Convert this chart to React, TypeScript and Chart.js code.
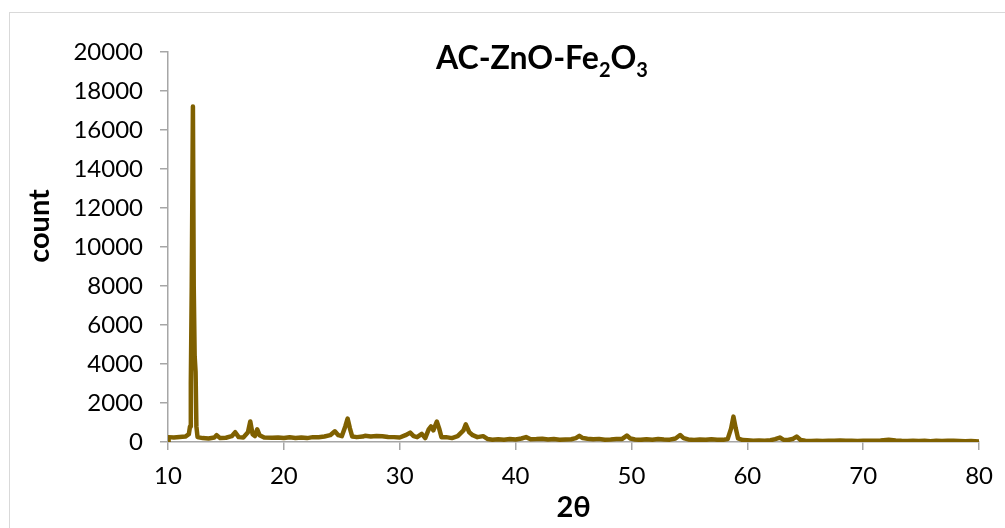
import React, { useEffect, useRef } from "react";
import { Chart, registerables } from "chart.js";

Chart.register(...registerables);

const TITLE_PARTS: [string, boolean][] = [
  ["AC-ZnO-Fe", false],
  ["2", true],
  ["O", false],
  ["3", true],
];
const X_TITLE = "2θ";
const Y_TITLE = "count";
const X_TICKS = [10, 20, 30, 40, 50, 60, 70, 80];
const Y_TICKS = [0, 2000, 4000, 6000, 8000, 10000, 12000, 14000, 16000, 18000, 20000];

const twoTheta = [
  10.0, 10.05, 10.5, 11.0, 11.5, 11.8, 11.9, 11.97, 12.05, 12.15, 12.22, 12.3, 12.38, 12.45, 12.55,
  13.0, 13.5, 14.0, 14.2, 14.5, 15.0, 15.5, 15.8, 16.1, 16.5, 16.9, 17.1, 17.3, 17.5, 17.7, 17.9,
  18.3, 19.0, 19.5, 20.0, 20.5, 21.0, 21.5, 22.0, 22.5, 23.0, 23.5, 24.0, 24.4, 24.7, 25.0, 25.3,
  25.5, 25.7, 25.9, 26.3, 26.8, 27.0, 27.5, 28.0, 28.5, 29.0, 29.5, 30.0, 30.5, 30.9, 31.2, 31.5,
  31.9, 32.2, 32.5, 32.7, 32.9, 33.2, 33.4, 33.6, 34.0, 34.5, 35.0, 35.5, 35.7, 36.0, 36.3, 36.7,
  37.2, 37.6, 38.0, 38.5, 39.0, 39.5, 40.0, 40.5, 40.9, 41.3, 41.8, 42.3, 42.8, 43.3, 43.8, 44.3,
  44.8, 45.2, 45.5, 45.8, 46.2, 46.7, 47.2, 47.7, 48.2, 48.7, 49.2, 49.6, 49.9, 50.3, 50.8, 51.3,
  51.8, 52.3, 52.8, 53.3, 53.8, 54.2, 54.5, 54.9, 55.4, 55.9, 56.4, 56.9, 57.4, 57.9, 58.3, 58.6,
  58.8, 59.0, 59.2, 59.6, 60.0, 60.5, 61.0, 61.5, 62.0, 62.4, 62.8, 63.1, 63.5, 63.9, 64.25, 64.6,
  65.0, 65.5, 66.0, 66.5, 67.0, 67.5, 68.0, 68.5, 69.0, 69.5, 70.0, 70.5, 71.0, 71.5, 72.2, 72.8,
  73.3, 73.8, 74.3, 74.8, 75.3, 75.8, 76.3, 76.8, 77.3, 77.8, 78.3, 78.8, 79.3, 80.0,
];

const counts = [
  30, 250, 230, 260, 280, 400, 800, 3000, 8000, 17200, 8000, 4400, 3600, 800, 250,
  200, 180, 230, 350, 200, 220, 300, 500, 250, 230, 500, 1050, 400, 300, 650, 350,
  230, 220, 230, 200, 240, 210, 230, 200, 250, 240, 280, 350, 550, 350, 300, 800,
  1200, 700, 280, 250, 280, 320, 280, 310, 300, 260, 250, 230, 350, 480, 300, 250,
  420, 200, 650, 800, 600, 1050, 700, 250, 250, 200, 300, 600, 900, 500, 350, 250,
  300, 150, 120, 140, 120, 150, 130, 180, 250, 140, 150, 170, 130, 150, 120, 130,
  140, 200, 320, 200, 170, 140, 160, 120, 130, 150, 160, 330, 180, 130, 110, 140,
  120, 150, 130, 120, 180, 360, 200, 130, 100, 130, 110, 140, 120, 110, 150, 700,
  1300, 700, 180, 100, 90, 70, 80, 60, 90, 150, 230, 120, 100, 150, 280, 100,
  60, 50, 60, 50, 70, 60, 80, 60, 70, 50, 60, 60, 70, 80, 120, 80,
  60, 50, 60, 50, 60, 40, 60, 50, 70, 60, 50, 40, 50, 30,
];

const FONT = "Lato, 'Open Sans', sans-serif";
const LINE_COLOR = "#7F6000";
const AXIS_COLOR = "#a6a6a6";

const titlesPlugin = {
  id: "customTitles",
  afterDraw(chart: any) {
    const ctx = chart.ctx as CanvasRenderingContext2D;
    ctx.save();
    ctx.fillStyle = "#000";
    ctx.textBaseline = "alphabetic";
    ctx.textAlign = "left";
    const big = `bold 32px ${FONT}`;
    const small = `bold 20px ${FONT}`;
    let total = 0;
    const widths = TITLE_PARTS.map(([t, sub]) => {
      ctx.font = sub ? small : big;
      const w = ctx.measureText(t).width;
      total += w;
      return w;
    });
    let x = 532 - total / 2;
    TITLE_PARTS.forEach(([t, sub], i) => {
      ctx.font = sub ? small : big;
      ctx.fillText(t, x, sub ? 64 : 56);
      x += widths[i];
    });
    ctx.translate(30, 213);
    ctx.rotate(-Math.PI / 2);
    ctx.font = `bold 29px ${FONT}`;
    ctx.textAlign = "center";
    ctx.textBaseline = "middle";
    ctx.fillText(Y_TITLE, 0, 0);
    ctx.restore();
  },
};

export default function App() {
  const ref = useRef<HTMLCanvasElement>(null);
  useEffect(() => {
    if (!ref.current) return;
    const data = twoTheta.map((t, i) => ({ x: t, y: counts[i] }));
    const chart = new Chart(ref.current, {
      type: "line",
      data: {
        datasets: [
          {
            data,
            borderColor: LINE_COLOR,
            backgroundColor: LINE_COLOR,
            borderWidth: 4.5,
            pointRadius: 0,
            tension: 0,
            borderJoinStyle: "round",
            borderCapStyle: "round",
          },
        ],
      },
      options: {
        responsive: false,
        animation: false,
        devicePixelRatio: 1,
        layout: { padding: { top: 39, right: 25, left: 0, bottom: 0 } },
        plugins: { legend: { display: false }, tooltip: { enabled: false }, title: { display: false } },
        scales: {
          x: {
            type: "linear",
            min: 10,
            max: 80,
            afterBuildTicks: (s: any) => {
              s.ticks = X_TICKS.map((v) => ({ value: v }));
            },
            afterFit: (s: any) => {
              s.height = 86;
            },
            grid: { drawOnChartArea: false, drawTicks: true, tickLength: 8, color: AXIS_COLOR, lineWidth: 1.5 },
            border: { color: AXIS_COLOR, width: 1.5 },
            ticks: { color: "#000", font: { family: FONT, size: 24 }, padding: 12, maxRotation: 0, autoSkip: false },
            title: { display: true, text: X_TITLE, color: "#000", font: { family: FONT, size: 29, weight: "bold" }, padding: { bottom: 3, top: 0 } },
          },
          y: {
            type: "linear",
            min: 0,
            max: 20000,
            afterBuildTicks: (s: any) => {
              s.ticks = Y_TICKS.map((v) => ({ value: v }));
            },
            afterFit: (s: any) => {
              s.width = 158;
            },
            grid: { drawOnChartArea: false, drawTicks: true, tickLength: 8, color: AXIS_COLOR, lineWidth: 1.5 },
            border: { color: AXIS_COLOR, width: 1.5 },
            ticks: { color: "#000", font: { family: FONT, size: 24 }, padding: 17, autoSkip: false, callback: (v: any) => String(v) },
          },
        },
      },
      plugins: [titlesPlugin],
    });
    return () => chart.destroy();
  }, []);
  return (
    <div
      style={{
        position: "absolute",
        left: 9,
        top: 12,
        width: 995,
        height: 515,
        borderTop: "1px solid #d9d9d9",
        borderLeft: "1px solid #d9d9d9",
        background: "#fff",
      }}
    >
      <canvas ref={ref} width={995} height={515} style={{ display: "block", width: 995, height: 515 }} />
    </div>
  );
}
